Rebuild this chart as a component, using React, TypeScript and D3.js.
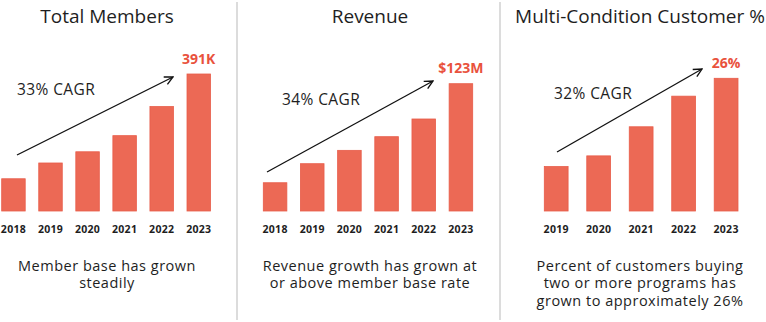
import React from "react";
import * as d3 from "d3";

const membersYears = ["2018", "2019", "2020", "2021", "2022", "2023"];
const membersValues = [92, 137, 169, 215, 298, 391];
const revenueYears = ["2018", "2019", "2020", "2021", "2022", "2023"];
const revenueValues = [27.3, 45.7, 58.6, 71.8, 88.9, 123];
const multiYears = ["2019", "2020", "2021", "2022", "2023"];
const multiValues = [8.7, 10.8, 16.5, 22.5, 26];

const titles = ["Total Members", "Revenue", "Multi-Condition Customer %"];
const valueLabels = ["391K", "$123M", "26%"];
const cagrLabels = ["33% CAGR", "34% CAGR", "32% CAGR"];
const subtitles = [
  ["Member base has grown", "steadily"],
  ["Revenue growth has grown at", "or above member base rate"],
  ["Percent of customers buying", "two or more programs has", "grown to approximately 26%"],
];

const FONT = "'Open Sans', Lato, sans-serif";
const BAR = "#EC6955";
const BAR_EDGE = "#E85C49";
const LABEL = "#E9523D";
const TEXT = "#1e1e1e";

type PanelCfg = {
  years: string[];
  values: number[];
  x0: number;
  x1: number;
  topPx: number;
  bandPad: number;
  center: number;
  cagrX: number;
  cagrY: number;
  arrow: [number, number, number, number];
};

const panels: PanelCfg[] = [
  { years: membersYears, values: membersValues, x0: 1.7, x1: 210.5, topPx: 74, bandPad: 0.366, center: 107, cagrX: 17, cagrY: 89, arrow: [17, 155, 173, 77] },
  { years: revenueYears, values: revenueValues, x0: 263.3, x1: 472.7, topPx: 83.7, bandPad: 0.366, center: 370, cagrX: 282, cagrY: 99, arrow: [267, 172, 433, 81] },
  { years: multiYears, values: multiValues, x0: 544.3, x1: 738, topPx: 78.3, bandPad: 0.44, center: 640, cagrX: 554, cagrY: 93, arrow: [557, 152, 702, 69] },
];

const BASE = 211;

export default function App() {
  return (
    <svg width={766} height={322} style={{ position: "absolute", left: 0, top: 0, background: "#fff" }}>
      <defs>
        <marker id="ah" viewBox="0 0 10 10" refX="9" refY="5" markerWidth="8" markerHeight="8" orient="auto">
          <path d="M1,1 L9,5 L1,9" fill="none" stroke="#111" strokeWidth={1.3} />
        </marker>
      </defs>
      <line x1={237} x2={237} y1={2} y2={320} stroke="#dcdcdc" strokeWidth={2} />
      <line x1={500} x2={500} y1={2} y2={320} stroke="#dcdcdc" strokeWidth={2} />
      {panels.map((p, i) => {
        const x = d3.scaleBand<string>().domain(p.years).range([p.x0, p.x1]).paddingInner(p.bandPad).paddingOuter(0);
        const maxV = d3.max(p.values) as number;
        const y = d3.scaleLinear().domain([0, maxV]).range([BASE, p.topPx]);
        const last = p.years[p.years.length - 1];
        return (
          <g key={i}>
            <text x={p.center} y={16} textAnchor="middle" dominantBaseline="central" fontFamily={FONT} fontSize={19} fill={TEXT}>{titles[i]}</text>
            {p.years.map((yr, j) => (
              <rect key={yr} x={x(yr)} y={y(p.values[j])} width={x.bandwidth()} height={BASE - y(p.values[j])} fill={BAR} stroke={BAR_EDGE} strokeWidth={0.8} />
            ))}
            {p.years.map((yr) => (
              <text key={"t" + yr} x={(x(yr) as number) + x.bandwidth() / 2} y={229} textAnchor="middle" dominantBaseline="central" fontFamily={FONT} fontWeight={700} fontSize={10.5} letterSpacing={0.3} fill={TEXT}>{yr}</text>
            ))}
            <text x={(x(last) as number) + x.bandwidth() / 2} y={y(maxV) - 16} textAnchor="middle" dominantBaseline="central" fontFamily={FONT} fontWeight={700} fontSize={14} fill={LABEL}>{valueLabels[i]}</text>
            <text x={p.cagrX} y={p.cagrY} dominantBaseline="central" fontFamily={FONT} fontSize={15.5} letterSpacing={0.4} fill={TEXT}>{cagrLabels[i]}</text>
            <line x1={p.arrow[0]} y1={p.arrow[1]} x2={p.arrow[2]} y2={p.arrow[3]} stroke="#111" strokeWidth={1.3} markerEnd="url(#ah)" />
            <text x={p.center} y={270.5} textAnchor="middle" fontFamily={FONT} fontSize={14.5} letterSpacing={0.5} fill={TEXT}>
              {subtitles[i].map((s, k) => (
                <tspan key={k} x={p.center} dy={k === 0 ? 0 : 17.8}>{s}</tspan>
              ))}
            </text>
          </g>
        );
      })}
    </svg>
  );
}
